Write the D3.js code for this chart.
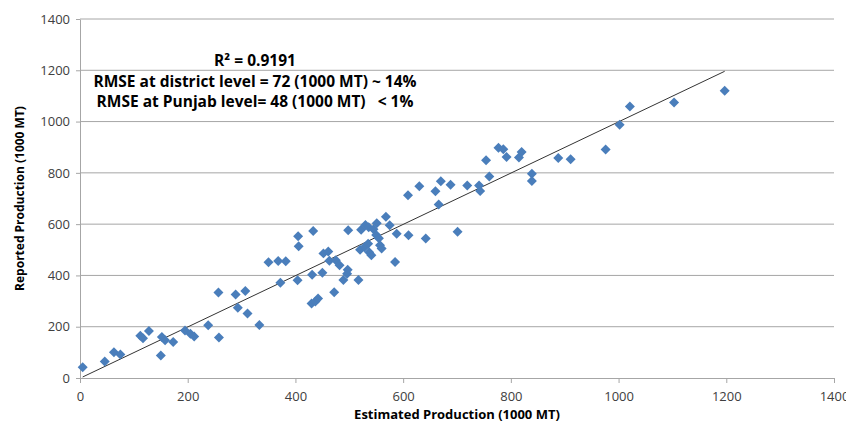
<!DOCTYPE html>
<html>
<head>
<meta charset="utf-8">
<script src="https://cdn.jsdelivr.net/npm/d3@7"></script>
<style>
body { margin: 0; background: #fff; }
text { font-family: "Open Sans", "Liberation Sans", sans-serif; }
</style>
</head>
<body>
<div id="vis"></div>
<script>
var w = 846, h = 427;
var m = {left: 80, right: 12, top: 19, bottom: 49};

// estimated (x) vs reported (y), 1000 MT
var estimated = [5,46,63,75,112,117,128,150,152,158,173,195,205,212,238,257,258,289,293,307,311,333,
  350,368,372,382,404,405,406,431,430,437,442,433,450,452,461,463,475,472,482,489,497,496,498,517,520,528,535,
  537,541,522,530,536,545,551,550,555,557,560,568,575,585,588,610,642,609,630,660,670,666,688,701,719,741,743,
  754,760,777,786,792,815,820,839,839,888,911,976,1002,1021,1103,1197];
var reported = [42,64,100,92,165,155,183,88,160,147,140,185,173,162,206,333,158,326,274,339,252,207,
  451,456,371,455,381,553,514,403,291,298,310,573,410,486,493,457,459,334,440,382,422,407,576,382,500,510,524,
  490,479,578,597,588,580,603,558,545,518,505,629,596,452,563,557,544,713,748,728,767,677,754,570,751,751,729,
  849,786,898,892,862,860,881,797,768,858,853,891,988,1059,1074,1120];

var trendX = [5, 1197];
var trendY = [4, 1196];

var ticks = [0,200,400,600,800,1000,1200,1400];

var notes = ["R\u00b2 = 0.9191",
  "RMSE at district level = 72 (1000 MT) ~ 14%",
  "RMSE at Punjab level= 48 (1000 MT)   < 1%"];

var svg = d3.select("div#vis").append("svg")
  .attr("width", w)
  .attr("height", h);

var x = d3.scaleLinear().domain([0,1400]).range([m.left, w - m.right]);
var y = d3.scaleLinear().domain([0,1400]).range([h - m.bottom, m.top]);

// gridlines
svg.selectAll("line.grid").data(ticks.slice(1)).enter().append("line")
  .attr("class","grid")
  .attr("x1", x(0)).attr("x2", x(1400))
  .attr("y1", function(d){return y(d);}).attr("y2", function(d){return y(d);})
  .style("stroke","#a6a6a6").style("stroke-width",1);

var xAxis = svg.append("g")
  .attr("transform","translate(0," + y(0) + ")")
  .call(d3.axisBottom(x).tickValues(ticks).tickFormat(d3.format("d")).tickSize(5).tickSizeOuter(0));
var yAxis = svg.append("g")
  .attr("transform","translate(" + x(0) + ",0)")
  .call(d3.axisLeft(y).tickValues(ticks).tickFormat(d3.format("d")).tickSize(4).tickSizeOuter(0));

[xAxis, yAxis].forEach(function(g){
  g.select(".domain").style("stroke","#a6a6a6");
  g.selectAll(".tick line").style("stroke","#a6a6a6");
  g.selectAll(".tick text").style("font-size","13px").style("fill","#404040")
    .style("font-family","'Open Sans', 'Liberation Sans', sans-serif");
});
xAxis.selectAll(".tick text").attr("dy","1.15em");
yAxis.selectAll(".tick text").attr("x",-10);

// trendline
svg.append("line")
  .attr("x1", x(trendX[0])).attr("y1", y(trendY[0]))
  .attr("x2", x(trendX[1])).attr("y2", y(trendY[1]))
  .style("stroke","#333").style("stroke-width",1);

// points
var diamond = d3.symbol().type(d3.symbolSquare).size(50);
svg.selectAll("path.pt").data(estimated).enter().append("path")
  .attr("class","pt")
  .attr("d", diamond)
  .attr("transform", function(d,i){return "translate(" + x(d) + "," + y(reported[i]) + ") rotate(45)";})
  .style("fill","#4a7ebb");

// annotations
svg.selectAll("text.note").data(notes).enter().append("text")
  .attr("class","note")
  .attr("x", 255)
  .attr("y", function(d,i){return 66 + i*20.5;})
  .attr("text-anchor","middle")
  .style("font-size","15.5px").style("font-weight","bold").style("fill","#000")
  .style("white-space","pre")
  .text(function(d){return d;});

// axis titles
svg.append("text").attr("x", (x(0)+x(1400))/2).attr("y", 419).attr("text-anchor","middle")
  .style("font-size","13px").style("font-weight","bold").style("fill","#000")
  .text("Estimated Production (1000 MT)");
svg.append("text")
  .attr("transform","translate(24," + (y(0)+y(1400))/2 + ") rotate(-90)")
  .attr("text-anchor","middle")
  .style("font-size","12px").style("font-weight","bold").style("fill","#000")
  .text("Reported Production (1000 MT)");
</script>
</body>
</html>
